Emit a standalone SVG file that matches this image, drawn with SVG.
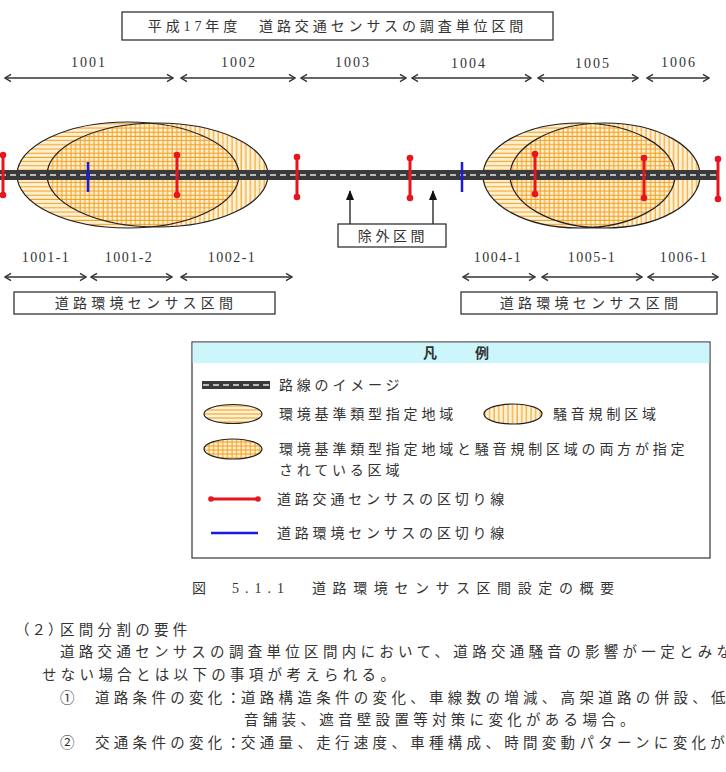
<svg xmlns="http://www.w3.org/2000/svg" width="726" height="772" viewBox="0 0 726 772">
<style>
.t{font-family:"Liberation Serif","Noto Sans CJK JP",serif;fill:#333;}
.j{font-family:"Noto Sans CJK JP",sans-serif;fill:#333;}
.box{fill:#fff;stroke:#333;stroke-width:1.3;}
.dim{stroke:#333;stroke-width:1.3;fill:none;marker-start:url(#ah);marker-end:url(#ah);}
.red{stroke:#e8141e;stroke-width:3;}
.redd{fill:#e8141e;}
.blue{stroke:#1a1ae6;stroke-width:2.5;}
.road{fill:#3a3a3a;}
.dash{stroke:#e6e6e6;stroke-width:1.6;stroke-dasharray:6 4;}
.ebg{fill:#fff1d6;}
.eout{fill:none;stroke:#222;stroke-width:1.2;}
</style>
<defs>
<marker id="ah" viewBox="0 0 10 10" refX="9" refY="5" markerWidth="10" markerHeight="10" markerUnits="userSpaceOnUse" orient="auto-start-reverse">
<path d="M3,1.3 L9,5 L3,8.7" fill="none" stroke="#333" stroke-width="1.4"/>
</marker>
<marker id="tri" viewBox="0 0 10 10" refX="9" refY="5" markerWidth="10" markerHeight="10" markerUnits="userSpaceOnUse" orient="auto">
<path d="M0,1 L10,5 L0,9 Z" fill="#111"/>
</marker>
<pattern id="ph" width="8" height="4.2" patternUnits="userSpaceOnUse">
<line x1="0" y1="2" x2="8" y2="2" stroke="#f2a020" stroke-width="1.1"/>
</pattern>
<pattern id="pv" width="4.6" height="8" patternUnits="userSpaceOnUse">
<line x1="2" y1="0" x2="2" y2="8" stroke="#f2a020" stroke-width="1.1"/>
</pattern>
<pattern id="phl" width="8" height="4" patternUnits="userSpaceOnUse" y="0">
<line x1="0" y1="2" x2="8" y2="2" stroke="#f2a020" stroke-width="1.1"/>
</pattern>
</defs>
<rect width="726" height="772" fill="#fff"/>

<!-- title -->
<g id="title">
<rect class="box" x="122" y="12" width="431" height="28"/>
<text class="t" x="337.5" y="31" font-size="14" letter-spacing="3.9" text-anchor="middle">平成17年度　道路交通センサスの調査単位区間</text>
</g>

<!-- zones -->
<g id="zones-left">
<ellipse class="ebg" cx="128" cy="175" rx="111" ry="53"/>
<ellipse class="ebg" cx="157.5" cy="175" rx="110.5" ry="52"/>
<ellipse cx="128" cy="175" rx="111" ry="53" fill="url(#ph)"/>
<ellipse cx="157.5" cy="175" rx="110.5" ry="52" fill="url(#pv)"/>
<ellipse class="eout" cx="128" cy="175" rx="111" ry="53"/>
<ellipse class="eout" cx="157.5" cy="175" rx="110.5" ry="52"/>
</g>
<g id="zones-right">
<ellipse class="ebg" cx="579" cy="175.5" rx="96" ry="52.5"/>
<ellipse class="ebg" cx="605" cy="175.5" rx="95" ry="52.5"/>
<ellipse cx="579" cy="175.5" rx="96" ry="52.5" fill="url(#ph)"/>
<ellipse cx="605" cy="175.5" rx="95" ry="52.5" fill="url(#pv)"/>
<ellipse class="eout" cx="579" cy="175.5" rx="96" ry="52.5"/>
<ellipse class="eout" cx="605" cy="175.5" rx="95" ry="52.5"/>
</g>

<!-- road -->
<g id="road">
<rect class="road" x="0" y="170" width="718" height="10"/>
<line class="dash" x1="0" y1="175" x2="718" y2="175"/>
</g>

<!-- connectors: division lines and dimension arrows -->
<g id="connectors">
<g id="traffic-census-dividers">
<line class="red" x1="3" y1="155" x2="3" y2="195"/><circle class="redd" cx="3" cy="155" r="3.3"/><circle class="redd" cx="3" cy="195" r="3.3"/>
<line class="red" x1="177" y1="155" x2="177" y2="195"/><circle class="redd" cx="177" cy="155" r="3.3"/><circle class="redd" cx="177" cy="195" r="3.3"/>
<line class="red" x1="297" y1="157" x2="297" y2="197"/><circle class="redd" cx="297" cy="157" r="3.3"/><circle class="redd" cx="297" cy="197" r="3.3"/>
<line class="red" x1="410" y1="158" x2="410" y2="198"/><circle class="redd" cx="410" cy="158" r="3.3"/><circle class="redd" cx="410" cy="198" r="3.3"/>
<line class="red" x1="535" y1="154" x2="535" y2="194"/><circle class="redd" cx="535" cy="154" r="3.3"/><circle class="redd" cx="535" cy="194" r="3.3"/>
<line class="red" x1="644" y1="158" x2="644" y2="198"/><circle class="redd" cx="644" cy="158" r="3.3"/><circle class="redd" cx="644" cy="198" r="3.3"/>
<line class="red" x1="718" y1="159" x2="718" y2="199"/><circle class="redd" cx="718" cy="159" r="3.3"/><circle class="redd" cx="718" cy="199" r="3.3"/>
</g>
<g id="env-census-dividers">
<line class="blue" x1="88" y1="162" x2="88" y2="192"/>
<line class="blue" x1="462" y1="162" x2="462" y2="192"/>
</g>
<g id="top-dims">
<line class="dim" x1="5" y1="78" x2="173" y2="78"/>
<line class="dim" x1="181" y1="78" x2="295" y2="78"/>
<line class="dim" x1="301" y1="78" x2="406" y2="78"/>
<line class="dim" x1="412" y1="78" x2="531" y2="78"/>
<line class="dim" x1="538" y1="78" x2="638" y2="78"/>
<line class="dim" x1="647" y1="78" x2="709" y2="78"/>
</g>
<g id="bottom-dims">
<line class="dim" x1="5" y1="277" x2="86" y2="277"/>
<line class="dim" x1="91" y1="277" x2="172" y2="277"/>
<line class="dim" x1="181" y1="277" x2="292" y2="277"/>
<line class="dim" x1="463" y1="277" x2="535" y2="277"/>
<line class="dim" x1="542" y1="277" x2="642" y2="277"/>
<line class="dim" x1="648" y1="277" x2="718" y2="277"/>
</g>
<g id="exclusion-arrows">
<line x1="350" y1="224" x2="350" y2="191" stroke="#444" stroke-width="1.6" marker-end="url(#tri)"/>
<line x1="433" y1="224" x2="433" y2="191" stroke="#444" stroke-width="1.6" marker-end="url(#tri)"/>
</g>
</g>

<!-- top labels -->
<g id="top-labels" class="t" font-size="14" letter-spacing="2" text-anchor="middle">
<text x="89" y="67">1001</text>
<text x="239" y="67">1002</text>
<text x="353" y="67">1003</text>
<text x="469" y="68">1004</text>
<text x="593" y="68">1005</text>
<text x="679" y="67">1006</text>
</g>

<!-- bottom labels -->
<g id="bottom-labels" class="t" font-size="14" letter-spacing="1.5" text-anchor="middle">
<text x="46" y="262">1001-1</text>
<text x="129" y="262">1001-2</text>
<text x="232" y="262">1002-1</text>
<text x="498" y="262">1004-1</text>
<text x="592" y="262">1005-1</text>
<text x="684" y="262">1006-1</text>
</g>

<g id="exclusion">
<rect class="box" x="338" y="224" width="108" height="23"/>
<text class="t" x="393" y="241" font-size="14" letter-spacing="3.6" text-anchor="middle">除外区間</text>
</g>

<g id="env-left">
<rect class="box" x="14" y="292" width="261" height="22"/>
<text class="t" x="146" y="308" font-size="14" letter-spacing="4.3" text-anchor="middle">道路環境センサス区間</text>
</g>
<g id="env-right">
<rect class="box" x="461" y="292" width="256" height="22"/>
<text class="t" x="591" y="308" font-size="14" letter-spacing="4.3" text-anchor="middle">道路環境センサス区間</text>
</g>

<!-- legend -->
<g id="legend">
<rect x="192" y="342" width="518" height="216" fill="#fff" stroke="#444" stroke-width="1.3"/>
<rect x="192.7" y="342.7" width="516.6" height="20.5" fill="#ccf6fb"/>
<text class="j" x="423" y="358" font-size="14" font-weight="bold" fill="#111">凡</text>
<text class="j" x="475" y="358" font-size="14" font-weight="bold" fill="#111">例</text>

<rect class="road" x="202" y="381" width="68" height="8"/>
<line class="dash" x1="203" y1="385" x2="270" y2="385" stroke-dasharray="5 3"/>
<text class="t" x="279" y="390" font-size="14" letter-spacing="3.8">路線のイメージ</text>

<ellipse class="ebg" cx="233" cy="414" rx="29" ry="9.5"/>
<ellipse cx="233" cy="414" rx="29" ry="9.5" fill="url(#phl)"/>
<ellipse class="eout" cx="233" cy="414" rx="29" ry="9.5"/>
<text class="t" x="279" y="419" font-size="14" letter-spacing="3.8">環境基準類型指定地域</text>

<ellipse class="ebg" cx="513" cy="414" rx="29" ry="10"/>
<ellipse cx="513" cy="414" rx="29" ry="10" fill="url(#pv)"/>
<ellipse class="eout" cx="513" cy="414" rx="29" ry="10"/>
<text class="t" x="553" y="419" font-size="14" letter-spacing="3.8">騒音規制区域</text>

<ellipse class="ebg" cx="233" cy="449" rx="29" ry="10"/>
<ellipse cx="233" cy="449" rx="29" ry="10" fill="url(#phl)"/>
<ellipse cx="233" cy="449" rx="29" ry="10" fill="url(#pv)"/>
<ellipse class="eout" cx="233" cy="449" rx="29" ry="10"/>
<text class="t" x="279" y="454" font-size="14" letter-spacing="3.8">環境基準類型指定地域と騒音規制区域の両方が指定</text>
<text class="t" x="279" y="475" font-size="14" letter-spacing="3.8">されている区域</text>

<line class="red" x1="211" y1="499" x2="258" y2="499" stroke-width="2.2"/>
<circle class="redd" cx="211" cy="499" r="2.8"/><circle class="redd" cx="258" cy="499" r="2.8"/>
<text class="t" x="277" y="504" font-size="14" letter-spacing="3.8">道路交通センサスの区切り線</text>

<line class="blue" x1="211" y1="533" x2="258" y2="533" stroke-width="2.2"/>
<text class="t" x="277" y="538" font-size="14" letter-spacing="3.8">道路環境センサスの区切り線</text>
</g>

<!-- caption and body text -->
<g id="caption">
<text class="t" x="192" y="593" font-size="14" letter-spacing="6">図　5.1.1</text>
<text class="t" x="312" y="593" font-size="14" letter-spacing="6.6">道路環境センサス区間設定の概要</text>
</g>
<g id="body" class="t" font-size="14.5">
<text x="15" y="635" letter-spacing="2">（２）</text>
<text x="60" y="635" letter-spacing="4.3">区間分割の要件</text>
<text x="60" y="657" letter-spacing="4.3">道路交通センサスの調査単位区間内において、道路交通騒音の影響が一定とみな</text>
<text x="42" y="680" letter-spacing="4.3">せない場合とは以下の事項が考えられる。</text>
<text x="60" y="703">①</text>
<text x="95" y="703" letter-spacing="4.3">道路条件の変化</text>
<text x="226" y="703">：</text>
<text x="241" y="703" letter-spacing="4.3">道路構造条件の変化、車線数の増減、高架道路の併設、低騒</text>
<text x="244" y="725" letter-spacing="4.3">音舗装、遮音壁設置等対策に変化がある場合。</text>
<text x="60" y="748">②</text>
<text x="95" y="748" letter-spacing="4.3">交通条件の変化</text>
<text x="226" y="748">：</text>
<text x="241" y="748" letter-spacing="4.3">交通量、走行速度、車種構成、時間変動パターンに変化が</text>
</g>
</svg>
